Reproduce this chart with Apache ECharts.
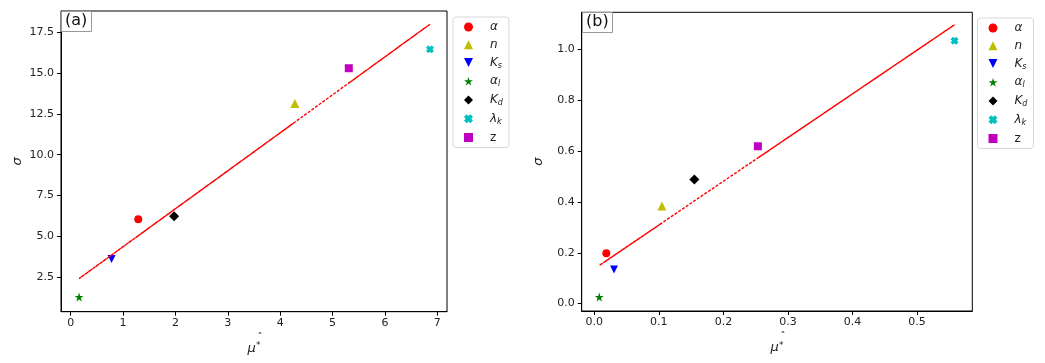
<!DOCTYPE html>
<html>
<head>
<meta charset="utf-8">
<script src="https://cdn.jsdelivr.net/npm/echarts@6/dist/echarts.min.js"></script>
<style>
  html, body { margin: 0; padding: 0; background: #fff; }
  #main { width: 1045px; height: 363px; }
</style>
</head>
<body>
<div id="main"></div>
<script>
// parameters, in the order they were plotted
const params = ['alpha', 'n', 'Ks', 'alphaL', 'Kd', 'lambdaK', 'z'];

// panel (a)
const muA = [1.29, 4.28, 0.78, 0.16, 1.975, 6.86, 5.31];
const sigmaA = [6.04, 13.13, 3.6, 1.27, 6.22, 16.46, 15.3];
const fitA = [5.03, 11.99, 3.84, 2.40, 6.63, 18.00, 14.39];
const xTicksA = [0, 1, 2, 3, 4, 5, 6, 7];
const yTicksA = [2.5, 5.0, 7.5, 10.0, 12.5, 15.0, 17.5];

// panel (b)
const muB = [0.0186, 0.1048, 0.0305, 0.0077, 0.155, 0.558, 0.2534];
const sigmaB = [0.198, 0.384, 0.134, 0.026, 0.488, 1.034, 0.619];
const fitB = [0.169, 0.317, 0.189, 0.150, 0.404, 1.097, 0.573];
const xTicksB = [0.0, 0.1, 0.2, 0.3, 0.4, 0.5];
const yTicksB = [0.0, 0.2, 0.4, 0.6, 0.8, 1.0];

// marker look per parameter (matplotlib style letters)
const markers = {
  alpha:   { symbol: 'circle', size: 8, color: '#ff0000' },
  n:       { symbol: 'triangle', size: 9, color: '#bfbf00' },
  Ks:      { symbol: 'path://M0,0L10,0L5,10Z', size: 8, color: '#0000ff' },
  alphaL:  { symbol: 'path://M0,-100L22.45,-30.9L95.1,-30.9L36.33,11.8L58.78,80.9L0,38.2L-58.78,80.9L-36.33,11.8L-95.1,-30.9L-22.45,-30.9Z', size: 9, color: '#008000' },
  Kd:      { symbol: 'diamond', size: 10, color: '#000000' },
  lambdaK: { symbol: 'path://M3,0L5,2L7,0L10,3L8,5L10,7L7,10L5,8L3,10L0,7L2,5L0,3Z', size: 8, color: '#00bfbf' },
  z:       { symbol: 'rect', size: 8, color: '#bf00bf' }
};

const legendLabels = {
  alpha: '{i|α}',
  n: '{i|n}',
  Ks: '{i|K}{s|s}',
  alphaL: '{i|α}{s|l}',
  Kd: '{i|K}{s|d}',
  lambdaK: '{i|λ}{s|k}',
  z: '{r|z}'
};

const font = 'DejaVu Sans';
const ink = '#222';

const myChart = echarts.init(document.getElementById('main'));

function makeSeries(gridIdx, xs, ys, fit) {
  const out = params.map((p, i) => ({
    name: p,
    type: 'scatter',
    xAxisIndex: gridIdx,
    yAxisIndex: gridIdx,
    symbol: markers[p].symbol,
    symbolSize: markers[p].size,
    itemStyle: { color: markers[p].color, opacity: 1 },
    emphasis: { disabled: true },
    z: 2,
    data: [[xs[i], ys[i]]]
  }));
  // fitted line, drawn through the points in plotting order like the original
  out.push({
    name: 'fit',
    type: 'line',
    xAxisIndex: gridIdx,
    yAxisIndex: gridIdx,
    showSymbol: false,
    symbol: 'none',
    silent: true,
    z: 3,
    lineStyle: { color: '#ff0000', width: 1.4, type: [3, 1.5] },
    data: xs.map((x, i) => [x, fit[i]])
  });
  return out;
}

function xAxis(gridIdx, min, max, ticks, digits) {
  return {
    type: 'value',
    gridIndex: gridIdx,
    min: min, max: max,
    name: '{h|ˆ}\n{m|μ}{s|*}',
    nameLocation: 'middle',
    nameGap: 20,
    nameTextStyle: {
      rich: {
        h: { fontFamily: font, fontSize: 10, color: ink, lineHeight: 6, padding: [0, 0, 0, 12] },
        m: { fontFamily: font, fontStyle: 'italic', fontSize: 13, color: ink, lineHeight: 14 },
        s: { fontFamily: font, fontSize: 9, color: ink, verticalAlign: 'top', lineHeight: 10 }
      }
    },
    splitLine: { show: false },
    axisLine: { show: true, onZero: false, lineStyle: { color: '#000', width: 1 } },
    axisTick: { show: true, length: 4, customValues: ticks, lineStyle: { color: '#000' } },
    axisLabel: {
      customValues: ticks,
      margin: 6,
      fontFamily: font, fontSize: 11, color: ink,
      formatter: v => Number(v).toFixed(digits)
    }
  };
}

function yAxis(gridIdx, min, max, ticks, digits) {
  return {
    type: 'value',
    gridIndex: gridIdx,
    min: min, max: max,
    name: 'σ',
    nameLocation: 'middle',
    nameGap: 37,
    nameTextStyle: { fontFamily: font, fontStyle: 'italic', fontSize: 13, color: ink },
    splitLine: { show: false },
    axisLine: { show: true, onZero: false, lineStyle: { color: '#000', width: 1 } },
    axisTick: { show: true, length: 4, customValues: ticks, lineStyle: { color: '#000' } },
    axisLabel: {
      customValues: ticks,
      margin: 7,
      fontFamily: font, fontSize: 11, color: ink,
      formatter: v => Number(v).toFixed(digits)
    }
  };
}

function legend(left, top) {
  return {
    orient: 'vertical',
    left: left, top: top,
    data: params,
    itemWidth: 9, itemHeight: 9,
    itemGap: 5.75,
    itemTextGap: 5,
    padding: [4, 6, 4, 11],
    backgroundColor: '#fff',
    borderColor: '#d8d8d8',
    borderWidth: 1,
    borderRadius: 3,
    selectedMode: false,
    formatter: name => legendLabels[name],
    textStyle: {
      rich: {
        i: { fontFamily: font, fontStyle: 'italic', fontSize: 12, color: ink, lineHeight: 14, padding: [0, 0, 0, 12] },
        r: { fontFamily: font, fontSize: 12, color: ink, lineHeight: 14, padding: [0, 0, 0, 12] },
        s: { fontFamily: font, fontStyle: 'italic', fontSize: 8, color: ink, verticalAlign: 'bottom', lineHeight: 9 }
      }
    }
  };
}

const boxTitle = (text, left, top) => ({
  text: text,
  left: left, top: top,
  padding: [2, 4, 3, 4],
  borderColor: '#999',
  borderWidth: 1,
  backgroundColor: '#fff',
  textStyle: { fontFamily: font, fontSize: 16, fontWeight: 'normal', color: '#111' }
});

const option = {
  animation: false,
  backgroundColor: '#fff',
  title: [boxTitle('(a)', 61, 11), boxTitle('(b)', 582, 12)],
  legend: [legend(453, 17), legend(977.5, 18)],
  grid: [
    { left: 61, top: 11, width: 386, height: 300.7, show: true, borderColor: '#000', borderWidth: 1, backgroundColor: 'transparent' },
    { left: 581.7, top: 12.3, width: 390.6, height: 298.7, show: true, borderColor: '#000', borderWidth: 1, backgroundColor: 'transparent' }
  ],
  xAxis: [
    xAxis(0, -0.185, 7.185, xTicksA, 0),
    xAxis(1, -0.0195, 0.5855, xTicksB, 1)
  ],
  yAxis: [
    yAxis(0, 0.37, 18.81, yTicksA, 1),
    yAxis(1, -0.029, 1.146, yTicksB, 1)
  ],
  series: [].concat(
    makeSeries(0, muA, sigmaA, fitA),
    makeSeries(1, muB, sigmaB, fitB)
  )
};

myChart.setOption(option);
</script>
</body>
</html>
